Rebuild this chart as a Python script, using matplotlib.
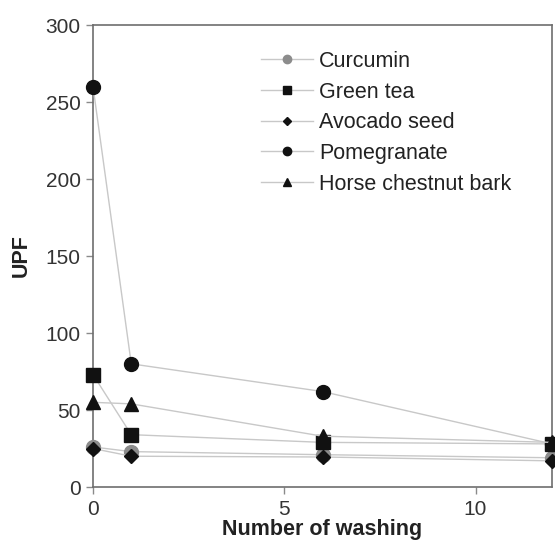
import matplotlib.pyplot as plt
import numpy as np

plt.rcParams['font.family'] = ['Liberation Sans', 'DejaVu Sans']

# washing cycles and UPF values
washes = [0, 1, 6, 12]
curcumin = [26, 23, 21, 19]
green_tea = [73, 34, 29, 28]
avocado_seed = [25, 20, 19.5, 17]
pomegranate = [260, 80, 62, 28]
horse_chestnut = [55, 54, 33, 29]

series = [
    ("Curcumin", curcumin, 'o', '#8c8c8c', 10),
    ("Green tea", green_tea, 's', '#111111', 10),
    ("Avocado seed", avocado_seed, 'D', '#111111', 7.5),
    ("Pomegranate", pomegranate, 'o', '#111111', 10),
    ("Horse chestnut bark", horse_chestnut, '^', '#111111', 10),
]

fig = plt.figure(figsize=(5.55, 5.4), dpi=100)
ax = fig.add_axes([0.1676, 0.0981, 0.8270, 0.8556])

for name, vals, mk, col, ms in series:
    ax.plot(washes, vals, color='#c8c8c8', lw=1.0, marker=mk, markersize=ms,
            markerfacecolor=col, markeredgecolor=col, label=name, clip_on=False,
            zorder=3)

ax.set_xlim(0, 12)
ax.set_ylim(0, 300)
ax.set_xticks([0, 5, 10])
ax.set_yticks(np.arange(0, 301, 50))

for sp in ax.spines.values():
    sp.set_color('#6e6e6e')
    sp.set_linewidth(1.2)
ax.tick_params(direction='out', length=5, width=1, color='#8a8a8a',
               labelsize=15, labelcolor='#333333', pad=4)

ax.set_xlabel("Number of washing", fontsize=15.5, fontweight='bold', color='#222222',
              labelpad=0)
ax.set_ylabel("UPF", fontsize=15.5, fontweight='bold', color='#222222', labelpad=10)

leg = ax.legend(loc='upper left', bbox_to_anchor=(0.366, 0.944), frameon=False,
                fontsize=15.5, handlelength=2.4, handletextpad=0.3,
                labelspacing=0.45, markerscale=0.6, borderpad=0,
                borderaxespad=0)
for t in leg.get_texts():
    t.set_color('#222222')

plt.savefig('out.png', dpi=100)
